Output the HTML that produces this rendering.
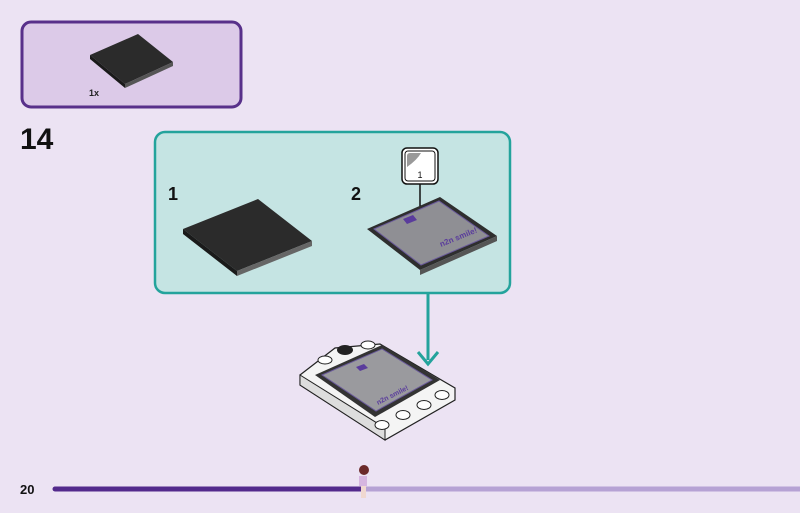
<!DOCTYPE html>
<html><head><style>
html,body{margin:0;padding:0;background:#ece3f3;}
svg{display:block;font-family:"Liberation Sans",sans-serif;}
</style></head><body>
<svg width="800" height="513" viewBox="0 0 800 513">
<rect width="800" height="513" fill="#ece3f3"/>
<rect x="22" y="22" width="219" height="85" rx="9" fill="#dccae8" stroke="#58308a" stroke-width="3"/>
<polygon points="90,55 138,34 173,62 125,84" fill="#2b2b2b"/>
<polygon points="90,55 125,84 125,88 90,59" fill="#1a1a1a"/>
<polygon points="125,84 173,62 173,66 125,88" fill="#555"/>
<text x="89" y="96" font-size="9" font-weight="bold" fill="#222">1x</text>
<text x="20" y="149" font-size="30" font-weight="bold" fill="#111">14</text>
<rect x="155" y="132" width="355" height="161" rx="10" fill="#c5e4e3" stroke="#24a39c" stroke-width="2.5"/>
<text x="168" y="200" font-size="18" font-weight="bold" fill="#111">1</text>
<text x="351" y="200" font-size="18" font-weight="bold" fill="#111">2</text>
<polygon points="183,229 258,199 312,241 237,271" fill="#2b2b2b"/>
<polygon points="183,229 237,271 237,276 183,234" fill="#1a1a1a"/>
<polygon points="237,271 312,241 312,246 237,276" fill="#666"/>
<polygon points="367,229 440,197 497,236 420,270" fill="#2e2e2e"/>
<polygon points="420,270 497,236 497,241 420,275" fill="#555"/>
<polygon points="374,229 439,201 489,236 421,265" fill="#8f8f94" stroke="#6a5a9a" stroke-width="1"/>
<polygon points="403,219 413,215 417,220 407,224" fill="#5a3c9c"/>
<text x="441" y="247" font-size="8" font-weight="bold" fill="#5a3c9c" transform="rotate(-22 441 247)">n2n smile!</text>
<line x1="420" y1="183" x2="420" y2="206" stroke="#111" stroke-width="1.5"/>
<rect x="402" y="148" width="36" height="36" rx="5" fill="#fff" stroke="#111" stroke-width="1.5"/>
<rect x="405" y="151" width="30" height="30" rx="3" fill="#fff" stroke="#111" stroke-width="1"/>
<path d="M407,167 L407,156 Q407,153 410,153 L421,153 Q417,160 407,167Z" fill="#999"/>
<text x="420" y="178" font-size="9" text-anchor="middle" fill="#111">1</text>
<line x1="428" y1="293" x2="428" y2="360" stroke="#24a39c" stroke-width="3"/>
<polyline points="418,352 428,364 438,352" fill="none" stroke="#24a39c" stroke-width="3"/>
<polygon points="300,375 335,348 380,344 455,388 455,400 385,440 300,385" fill="#f4f4f4" stroke="#222" stroke-width="1.2"/>
<polygon points="300,375 385,428 385,440 300,385" fill="#ddd" stroke="#222" stroke-width="1"/>
<ellipse cx="345" cy="350" rx="8" ry="5" fill="#222"/>
<ellipse cx="368" cy="345" rx="7" ry="4" fill="#fff" stroke="#222"/>
<ellipse cx="325" cy="360" rx="7" ry="4" fill="#fff" stroke="#222"/>
<polygon points="315,375 382,345 440,380 375,417" fill="#333"/>
<polygon points="322,375 382,349 432,380 376,411" fill="#9a9a9e" stroke="#6a5a9a"/>
<polygon points="356,367 364,364 368,368 360,371" fill="#5a3c9c"/>
<text x="378" y="405" font-size="7" font-weight="bold" fill="#5a3c9c" transform="rotate(-27 378 405)">n2n smile!</text>
<ellipse cx="382" cy="425" rx="7" ry="4.5" fill="#fff" stroke="#222"/>
<ellipse cx="403" cy="415" rx="7" ry="4.5" fill="#fff" stroke="#222"/>
<ellipse cx="424" cy="405" rx="7" ry="4.5" fill="#fff" stroke="#222"/>
<ellipse cx="442" cy="395" rx="7" ry="4.5" fill="#fff" stroke="#222"/>
<text x="20" y="494" font-size="13" font-weight="bold" fill="#111">20</text>
<line x1="55" y1="489" x2="362" y2="489" stroke="#532a8c" stroke-width="5" stroke-linecap="round"/>
<line x1="362" y1="489" x2="800" y2="489" stroke="#b6a2d4" stroke-width="5"/>
<circle cx="364" cy="470" r="5" fill="#6b2a2a"/>
<rect x="359" y="476" width="8" height="10" fill="#d6b6e0"/>
<rect x="361" y="486" width="5" height="12" fill="#f0d8d0"/>
</svg>
</body></html>
